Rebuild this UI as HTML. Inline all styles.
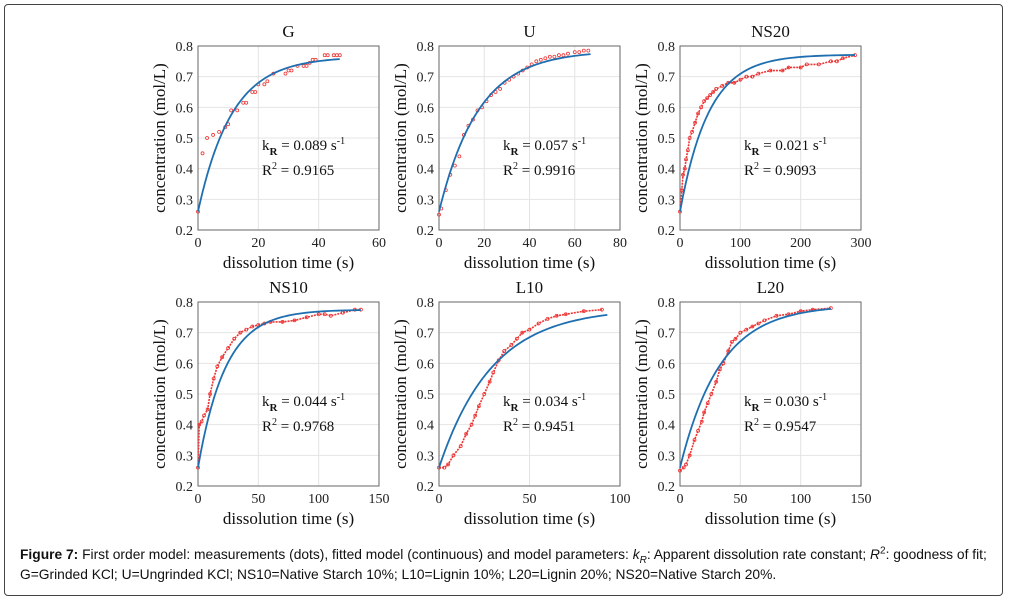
<!DOCTYPE html>
<html><head><meta charset="utf-8">
<style>
html,body{margin:0;padding:0;background:#fff;}
body{width:1009px;height:601px;position:relative;overflow:hidden;}
#frame{position:absolute;left:4px;top:4px;width:997px;height:590px;border:1px solid #444;border-radius:4px;}
#cap{position:absolute;left:20px;top:545px;width:985px;white-space:nowrap;font:13.8px/20px "Liberation Sans",sans-serif;color:#111;}
#cap sub,#cap sup{line-height:0;font-size:10px;}
svg{position:absolute;left:0;top:0;}
</style></head><body>
<div id="frame"></div>
<svg id="chart" width="1009" height="601"></svg>
<div id="cap"><b>Figure 7:</b> First order model: measurements (dots), fitted model (continuous) and model parameters: <i>k<sub>R</sub></i>: Apparent dissolution rate constant; <i>R</i><sup>2</sup>: goodness of fit;<br>G=Grinded KCl; U=Ungrinded KCl; NS10=Native Starch 10%; L10=Lignin 10%; L20=Lignin 20%; NS20=Native Starch 20%.</div>
<script>
const panelNames=["G","U","NS20","NS10","L10","L20"];
const xMaxes=[60,80,300,150,100,150];
const xTickSets=[[0,20,40,60],[0,20,40,60,80],[0,100,200,300],[0,50,100,150],[0,50,100],[0,50,100,150]];
const yTicks=[0.2,0.3,0.4,0.5,0.6,0.7,0.8];
const kValues=[0.089,0.057,0.021,0.044,0.034,0.030];
const kLabels=["0.089","0.057","0.021","0.044","0.034","0.030"];
const r2Labels=["0.9165","0.9916","0.9093","0.9768","0.9451","0.9547"];
const cInf=[0.765,0.785,0.772,0.775,0.78,0.79];
const tEnd=[47,67,290,135,93,125];
const c0=0.26;
const denseFlags=[false,false,true,true,true,true];
const tG=[0,1.5,3,5,7,9,10,11,13,15,16,18,19,20,22,23,25,29,30,31,33,35,36,37,38,39,42,43,45,46,47];
const cG=[.26,.45,.5,.51,.52,.535,.545,.59,.59,.615,.615,.65,.65,.675,.675,.685,.71,.71,.72,.72,.735,.735,.735,.745,.755,.755,.77,.77,.77,.77,.77];
const tU=[0,1,3,5,7,9,11,13,15,17,19,21,23,25,27,29,31,33,35,37,39,41,43,45,47,49,51,53,55,57,60,62,64,66];
const cU=[.25,.27,.33,.38,.41,.44,.51,.54,.56,.59,.6,.62,.64,.65,.66,.68,.69,.7,.71,.72,.73,.74,.75,.755,.76,.765,.765,.77,.77,.775,.78,.78,.785,.785];
const tNS20=[0,3,5,8,10,13,16,20,25,30,35,40,45,50,55,60,70,80,90,100,110,120,130,150,170,180,200,210,230,250,260,270,290];
const cNS20=[.26,.33,.38,.4,.43,.46,.5,.52,.55,.58,.6,.62,.63,.64,.65,.66,.67,.68,.68,.69,.7,.7,.71,.72,.72,.73,.73,.74,.74,.75,.75,.76,.77];
const tNS10=[0,1,3,5,8,10,13,16,20,25,30,35,40,45,50,55,60,70,80,90,100,105,110,120,130,135];
const cNS10=[.26,.4,.41,.43,.45,.5,.55,.59,.62,.65,.68,.7,.71,.72,.725,.73,.735,.735,.74,.75,.76,.76,.755,.765,.775,.775];
const tL10=[0,3,5,8,12,15,18,20,22,25,28,30,33,36,40,43,46,50,55,60,65,70,80,90];
const cL10=[.26,.26,.27,.3,.33,.37,.4,.43,.46,.5,.54,.57,.61,.64,.66,.68,.7,.71,.73,.745,.755,.76,.77,.775];
const tL20=[0,3,5,8,12,15,18,20,23,26,30,33,36,40,43,46,50,55,60,65,70,80,90,100,110,125];
const cL20=[.25,.26,.27,.3,.35,.38,.41,.44,.47,.5,.54,.58,.6,.64,.67,.68,.7,.71,.72,.73,.74,.755,.76,.77,.775,.78];
const tData=[tG,tU,tNS20,tNS10,tL10,tL20];
const cData=[cG,cU,cNS20,cNS10,cL10,cL20];

const NS="http://www.w3.org/2000/svg";
const svg=document.getElementById('chart');
function mk(tag,attrs,parent){const e=document.createElementNS(NS,tag);for(const k in attrs)e.setAttribute(k,attrs[k]);(parent||svg).appendChild(e);return e;}
const lefts=[198,439,680],tops=[46,302],W=181,H=184;
const serif='"Liberation Serif",serif';
panelNames.forEach((name,i)=>{
  const L=lefts[i%3],T=tops[Math.floor(i/3)];
  const g=mk('g',{});
  
  
  const xs=t=>L+t/xMaxes[i]*W, ys=c=>T+H-(c-0.2)/0.6*H;
  mk('rect',{x:L,y:T,width:W,height:H,fill:'#fff',stroke:'none'},g);
  xTickSets[i].forEach(v=>{
    mk('line',{x1:xs(v),x2:xs(v),y1:T,y2:T+H,stroke:'#e4e4e4','stroke-width':1},g);
    const tx=mk('text',{x:xs(v),y:T+H+17,'text-anchor':'middle','font-family':serif,'font-size':14,fill:'#222'},g);
    tx.textContent=v;
    
    
  });
  yTicks.forEach(v=>{
    mk('line',{x1:L,x2:L+W,y1:ys(v),y2:ys(v),stroke:'#e4e4e4','stroke-width':1},g);
    const tx=mk('text',{x:L-5,y:ys(v)+5,'text-anchor':'end','font-family':serif,'font-size':14,fill:'#222'},g);
    tx.textContent=v.toFixed(1);
    
    
  });
  mk('rect',{x:L,y:T,width:W,height:H,fill:'none',stroke:'#666','stroke-width':1},g);
  const ts=tData[i],cs=cData[i];
  if(denseFlags[i]){
    const pl=mk('polyline',{points:ts.map((t,j)=>xs(t)+','+ys(cs[j])).join(' '),fill:'none',stroke:'#e33','stroke-width':1.6,'stroke-dasharray':'2 1'},g);
    
    
  }
  ts.forEach((t,j)=>{
    const d=mk('circle',{cx:xs(t),cy:ys(cs[j]),r:1.5,fill:'none',stroke:'#e33','stroke-width':0.8},g);
    
    
  });
  let pts=[];
  for(let s=0;s<=60;s++){const t=tEnd[i]*s/60;const c=cInf[i]-(cInf[i]-c0)*Math.exp(-kValues[i]*t);pts.push(xs(t)+','+ys(c));}
  const fl=mk('polyline',{points:pts.join(' '),fill:'none',stroke:'#1f6fb0','stroke-width':1.8},g);
  
  
  const ti=mk('text',{x:L+W/2,y:T-9,'text-anchor':'middle','font-family':serif,'font-size':17,fill:'#111'},g);
  ti.textContent=name;
  
  
  const xl=mk('text',{x:L+W/2,y:T+H+38,'text-anchor':'middle','font-family':serif,'font-size':17,fill:'#111'},g);
  xl.textContent='dissolution time (s)';
  
  
  const yl=mk('text',{x:0,y:0,'text-anchor':'middle','font-family':serif,'font-size':17,fill:'#111',transform:`translate(${L-33},${T+H/2}) rotate(-90)`},g);
  yl.textContent='concentration (mol/L)';
  
  
  const kt=mk('text',{x:L+64,y:T+104,'font-family':serif,'font-size':15,fill:'#111'},g);
  kt.innerHTML=`k<tspan dy="5" font-size="11" font-weight="bold">R</tspan><tspan dy="-5"> = ${kLabels[i]} s</tspan><tspan dy="-6" font-size="10">-1</tspan>`;
  
  
  const rt=mk('text',{x:L+64,y:T+129,'font-family':serif,'font-size':15,fill:'#111'},g);
  rt.innerHTML=`R<tspan dy="-6" font-size="10">2</tspan><tspan dy="6"> = ${r2Labels[i]}</tspan>`;
  
  
});
</script>
</body></html>
